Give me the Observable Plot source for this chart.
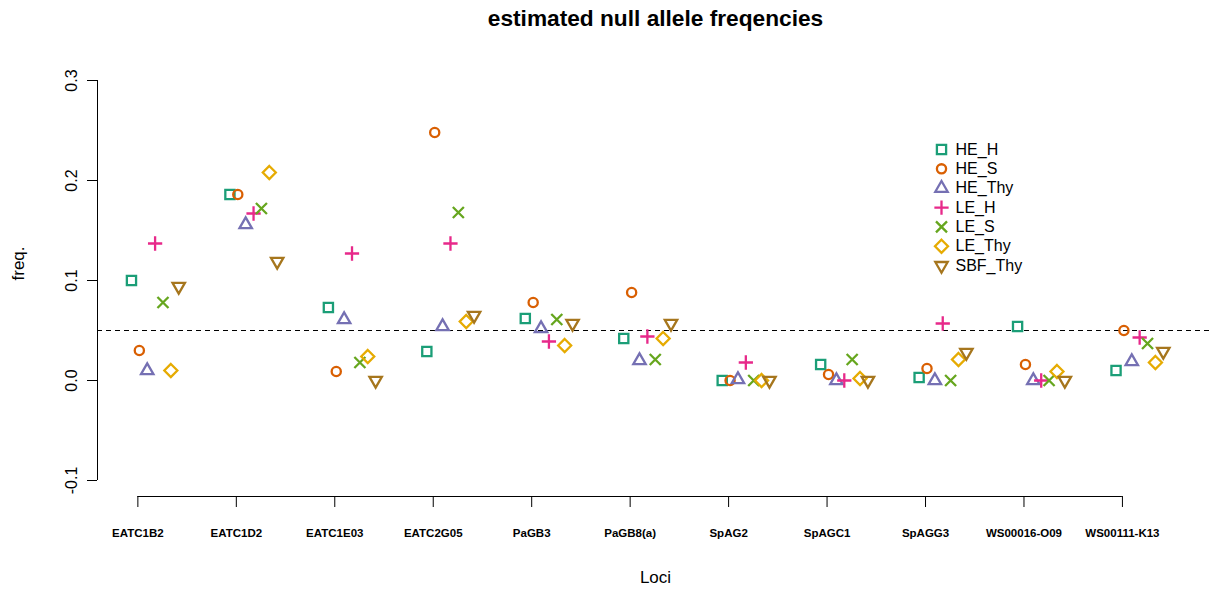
<!DOCTYPE html>
<html><head><meta charset="utf-8">
<script src="https://cdn.jsdelivr.net/npm/d3@7"></script>
<script src="https://cdn.jsdelivr.net/npm/@observablehq/plot@0.6"></script>
<style>body{margin:0;background:#fff;}</style>
</head><body><div id="chart"></div>
<script>
// ---- data ----
const loci = ["EATC1B2","EATC1D2","EATC1E03","EATC2G05","PaGB3","PaGB8(a)","SpAG2","SpAGC1","SpAGG3","WS00016-O09","WS00111-K13"];
const seriesNames = ["HE_H","HE_S","HE_Thy","LE_H","LE_S","LE_Thy","SBF_Thy"];
const HE_H    = [0.100, 0.186, 0.073, 0.029, 0.062, 0.042, 0.000, 0.016, 0.003, 0.054, 0.010];
const HE_S    = [0.030, 0.186, 0.009, 0.248, 0.078, 0.088, 0.000, 0.006, 0.012, 0.016, 0.050];
const HE_Thy  = [0.010, 0.156, 0.061, 0.054, 0.052, 0.020, 0.001, 0.000, 0.000, 0.000, 0.019];
const LE_H    = [0.137, 0.167, 0.127, 0.137, 0.039, 0.044, 0.018, 0.000, 0.057, 0.000, 0.043];
const LE_S    = [0.078, 0.172, 0.018, 0.168, 0.061, 0.021, 0.000, 0.021, 0.000, 0.000, 0.037];
const LE_Thy  = [0.010, 0.208, 0.024, 0.059, 0.035, 0.042, 0.000, 0.002, 0.021, 0.009, 0.018];
const SBF_Thy = [0.094, 0.119, 0.000, 0.065, 0.057, 0.057, 0.000, 0.000, 0.028, 0.000, 0.029];
const seriesValues = [HE_H, HE_S, HE_Thy, LE_H, LE_S, LE_Thy, SBF_Thy];
const yTicks = [-0.1, 0.0, 0.1, 0.2, 0.3];
const nullLine = 0.05;
const titleText = "estimated null allele freqencies";
const xLabel = "Loci";
const yLabel = "freq.";

// ---- styles ----
const colors = ["#1B9E77","#D95F02","#7570B3","#E7298A","#66A61E","#E6AB02","#A6761D"];
const FONT = "'Liberation Sans', Arial, Helvetica, sans-serif";
const rad = s => Math.sqrt(s / Math.PI);
const symbols = [
  {draw(c, z){const s=rad(z); c.moveTo(-s,-s); c.lineTo(s,-s); c.lineTo(s,s); c.lineTo(-s,s); c.closePath();}},
  {draw(c, z){const s=rad(z); c.moveTo(s,0); c.arc(0,0,s,0,2*Math.PI);}},
  {draw(c, z){const s=rad(z), r=1.555*s, xc=1.347*s, yc=0.778*s; c.moveTo(0,-r); c.lineTo(xc,yc); c.lineTo(-xc,yc); c.closePath();}},
  {draw(c, z){const h=1.55*rad(z); c.moveTo(-h,0); c.lineTo(h,0); c.moveTo(0,-h); c.lineTo(0,h);}},
  {draw(c, z){const s=1.2*rad(z); c.moveTo(-s,-s); c.lineTo(s,s); c.moveTo(-s,s); c.lineTo(s,-s);}},
  {draw(c, z){const h=1.414*rad(z); c.moveTo(0,-h); c.lineTo(h,0); c.lineTo(0,h); c.lineTo(-h,0); c.closePath();}},
  {draw(c, z){const s=rad(z), r=1.555*s, xc=1.347*s, yc=0.778*s; c.moveTo(0,r); c.lineTo(xc,-yc); c.lineTo(-xc,-yc); c.closePath();}}
];
const offsets = seriesNames.map((_, k) => -0.065 + 0.08 * k);

const rows = [];
seriesValues.forEach((vals, k) => vals.forEach((v, i) => rows.push({series: seriesNames[k], k, x: i + 1 + offsets[k], y: v})));

const xDomain = [0.59, 11.925];
const yDomain = [-0.116, 0.316];
const R = 4.6, SW = 2.3;

const marks = [
  Plot.ruleY([nullLine], {stroke: "#000", strokeWidth: 1, strokeDasharray: "5,4"}),
  Plot.ruleX([{x: xDomain[0], y1: d3.min(yTicks), y2: d3.max(yTicks)}], {x: "x", y1: "y1", y2: "y2", stroke: "#000"}),
  Plot.ruleY([{y: yDomain[0], x1: 1, x2: loci.length}], {y: "y", x1: "x1", x2: "x2", stroke: "#000"}),
  Plot.axisY({ticks: yTicks, tickSize: 10, tickPadding: 11, tickRotate: -90, tickFormat: d => d.toFixed(1), fontSize: 16, label: null, stroke: "#000"}),
  Plot.axisX({ticks: d3.range(1, loci.length + 1), tickFormat: i => loci[i - 1], tickSize: 11, tickPadding: 21, fontSize: 11.5, fontWeight: "bold", label: null, stroke: "#000"}),
  ...seriesNames.map((name, k) => Plot.dot(rows.filter(d => d.k === k), {x: "x", y: "y", symbol: symbols[k], r: R, stroke: colors[k], fill: "none", strokeWidth: SW})),
  // legend
  ...seriesNames.map((name, k) => Plot.dot([name], {frameAnchor: "top-left", dx: 941 - 97, dy: 149 - 64 + k * 19.35, symbol: symbols[k], r: R, stroke: colors[k], fill: "none", strokeWidth: SW})),
  ...seriesNames.map((name, k) => Plot.text([name], {text: d => d, frameAnchor: "top-left", lineAnchor: "middle", dx: 955 - 97, dy: 149 - 64 + k * 19.35, textAnchor: "start", fontSize: 16, fill: "#000"})),
  // titles
  Plot.text([titleText], {text: d => d, frameAnchor: "top", lineAnchor: "middle", dy: -46, fontSize: 22.7, fontWeight: "bold", fill: "#000"}),
  Plot.text([xLabel], {text: d => d, frameAnchor: "bottom", lineAnchor: "middle", dy: 81, fontSize: 17, fill: "#000"}),
  Plot.text([yLabel], {text: d => d, frameAnchor: "left", lineAnchor: "middle", dx: -79, rotate: -90, fontSize: 17, fill: "#000"})
];

const chart = Plot.plot({
  width: 1214, height: 590,
  marginLeft: 97, marginRight: 1, marginTop: 64, marginBottom: 94,
  x: {domain: xDomain, axis: null},
  y: {domain: yDomain, axis: null},
  style: {fontFamily: FONT, background: "#fff", color: "#000", overflow: "visible"},
  marks
});
document.getElementById("chart").appendChild(chart);
</script>
</body></html>
